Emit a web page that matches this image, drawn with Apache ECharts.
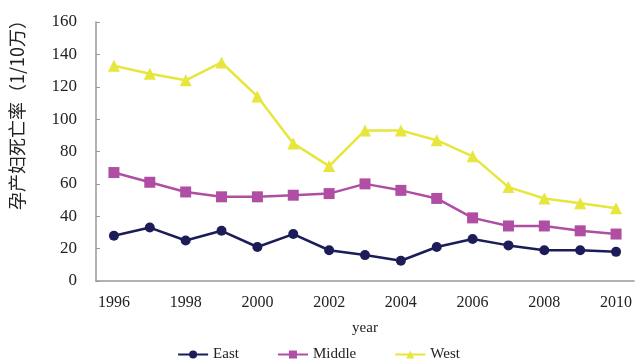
<!DOCTYPE html>
<html>
<head>
<meta charset="utf-8">
<script src="https://cdn.jsdelivr.net/npm/echarts@6/dist/echarts.min.js"></script>
<style>
  html, body { margin: 0; padding: 0; background: #fff; }
  #chart { width: 637px; height: 363px; }
</style>
</head>
<body>
<div id="chart"></div>
<script>
const years = ['1996', '1997', '1998', '1999', '2000', '2001', '2002', '2003', '2004', '2005', '2006', '2007', '2008', '2009', '2010'];
const east = [28, 33, 25, 31, 21, 29, 19, 16, 12.5, 21, 26, 22, 19, 19, 18];
const middle = [67, 61, 55, 52, 52, 53, 54, 60, 56, 51, 39, 34, 34, 31, 29];
const west = [133, 128, 124, 135, 114, 85, 71, 93, 93, 87, 77, 58, 51, 48, 45];

const serif = 'Liberation Serif';

window.addEventListener('load', function() {
  const myChart = echarts.init(document.getElementById('chart'));

  const option = {
    animation: false,
    legend: {
      data: ['East', 'Middle', 'West'],
      top: 342,
      left: 'center',
      itemGap: 38,
      itemWidth: 30,
      itemHeight: 10,
      textStyle: { fontFamily: serif, fontSize: 15, color: '#222' }
    },
    grid: {
      left: 95,
      right: 3,
      top: 22,
      bottom: 82
    },
    xAxis: {
      type: 'category',
      data: years,
      boundaryGap: true,
      name: 'year',
      nameLocation: 'middle',
      nameGap: 40,
      nameTextStyle: { fontFamily: serif, fontSize: 15, color: '#222' },
      axisLine: { lineStyle: { color: '#999', width: 1.5 } },
      axisTick: { inside: true, length: 4, lineStyle: { color: '#999' } },
      axisLabel: { interval: 1, fontFamily: serif, fontSize: 16, color: '#222', margin: 14 }
    },
    yAxis: {
      type: 'value',
      min: 0,
      max: 160,
      interval: 20,
      name: '孕产妇死亡率（1/10万）',
      nameLocation: 'middle',
      nameRotate: 90,
      nameGap: 70,
      nameTextStyle: {
        fontFamily: 'Noto Sans CJK SC',
        fontSize: 18,
        color: '#222',
        padding: [0, 0, 0, 82]
      },
      axisLine: { show: true, lineStyle: { color: '#999', width: 1.5 } },
      axisTick: { show: true, inside: true, length: 4, lineStyle: { color: '#999' } },
      splitLine: { show: false },
      axisLabel: { fontFamily: serif, fontSize: 17, color: '#222', margin: 19 }
    },
    series: [
      {
        name: 'East',
        type: 'line',
        data: east,
        symbol: 'circle',
        symbolSize: 10,
        lineStyle: { width: 2.5, color: '#1c1c58' },
        itemStyle: { color: '#1c1c58' }
      },
      {
        name: 'Middle',
        type: 'line',
        data: middle,
        symbol: 'rect',
        symbolSize: 11,
        lineStyle: { width: 2.5, color: '#b04ea4' },
        itemStyle: { color: '#b04ea4' }
      },
      {
        name: 'West',
        type: 'line',
        data: west,
        symbol: 'triangle',
        symbolSize: 12,
        lineStyle: { width: 2.5, color: '#e6e63c' },
        itemStyle: { color: '#e6e63c' }
      }
    ]
  };

  myChart.setOption(option);

  window.addEventListener('resize', function() {
    myChart.resize();
  });
});
</script>
</body>
</html>
